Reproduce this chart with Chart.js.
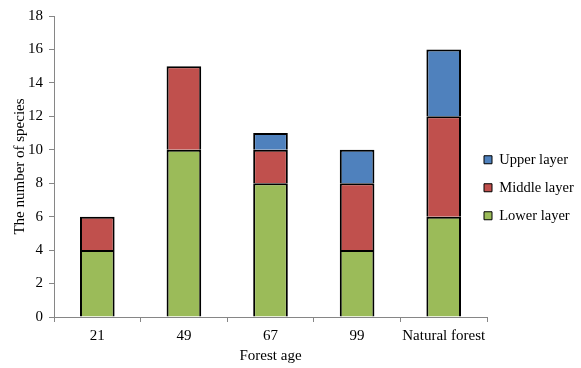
<!DOCTYPE html>
<html>
<head>
<meta charset="utf-8">
<script src="https://cdn.jsdelivr.net/npm/chart.js@4/dist/chart.umd.min.js"></script>
<style>
  html, body { margin: 0; padding: 0; background: #ffffff; }
  #wrap { width: 581px; height: 368px; }
</style>
</head>
<body>
<div id="wrap"><canvas id="chart" width="581" height="368"></canvas></div>
<script>
// Species counts per vegetation layer by forest age
const categories = ['21', '49', '67', '99', 'Natural forest'];
const lowerLayer = [4, 10, 8, 4, 6];
const middleLayer = [2, 5, 2, 4, 6];
const upperLayer = [0, 0, 1, 2, 4];
const yTickValues = [0, 2, 4, 6, 8, 10, 12, 14, 16, 18];

const seriesNames = ['Lower layer', 'Middle layer', 'Upper layer'];
const seriesColors = ['#9BBB59', '#C0504D', '#4F81BD'];

const axisGray = '#868686';
const serif = '"Liberation Serif", "Times New Roman", serif';

// Legend sits to the right of the plot, stacked top-down
const legendPlacer = {
  id: 'legendPlacer',
  afterLayout(chart) {
    const lg = chart.legend;
    if (!lg) return;
    const pad = lg.options.labels.padding;
    const w = lg.width, h = lg.height;
    lg.left = chart.chartArea.right - 3 - pad;
    lg.right = lg.left + w;
    lg.top = chart.chartArea.top + 123;
    lg.bottom = lg.top + h;
  }
};

const ctx = document.getElementById('chart').getContext('2d');
new Chart(ctx, {
  type: 'bar',
  data: {
    labels: categories,
    datasets: [lowerLayer, middleLayer, upperLayer].map((values, i) => ({
      label: seriesNames[i],
      data: values,
      backgroundColor: seriesColors[i],
      borderColor: '#000000',
      borderWidth: 2,
      borderSkipped: 'bottom',
      barPercentage: 0.4,
      categoryPercentage: 1.0
    }))
  },
  options: {
    responsive: false,
    animation: false,
    layout: { padding: { left: 0, right: 94, top: 16, bottom: 0 } },
    plugins: {
      tooltip: { enabled: false },
      legend: {
        position: 'chartArea',
        align: 'start',
        reverse: true,
        labels: {
          boxWidth: 8,
          boxHeight: 8,
          padding: 13.5,
          color: '#000000',
          font: { family: serif, size: 14.5 },
          generateLabels(chart) {
            const items = Chart.defaults.plugins.legend.labels.generateLabels(chart);
            items.forEach(it => { it.lineWidth = 1; });
            return items;
          }
        }
      }
    },
    scales: {
      x: {
        stacked: true,
        offset: true,
        grid: {
          offset: true,
          drawOnChartArea: false,
          drawTicks: true,
          tickLength: 5,
          color: axisGray
        },
        border: { display: true, color: axisGray, width: 1 },
        ticks: {
          color: '#000000',
          font: { family: serif, size: 15 },
          padding: 5,
          maxRotation: 0,
          autoSkip: false
        },
        title: {
          display: true,
          text: 'Forest age',
          color: '#000000',
          font: { family: serif, size: 15 },
          padding: { top: 0, bottom: 3 }
        },
        afterFit(scale) { scale.height = 51; }
      },
      y: {
        stacked: true,
        min: 0,
        max: 18,
        afterBuildTicks(scale) {
          scale.ticks = yTickValues.map(v => ({ value: v }));
        },
        grid: {
          drawOnChartArea: false,
          drawTicks: true,
          tickLength: 5,
          color: axisGray
        },
        border: { display: true, color: axisGray, width: 1 },
        ticks: {
          color: '#000000',
          font: { family: serif, size: 15 },
          padding: 6
        },
        title: {
          display: true,
          text: 'The number of species',
          color: '#000000',
          font: { family: serif, size: 15 },
          padding: { top: 11, bottom: 0 }
        },
        afterFit(scale) { scale.width = 54; }
      }
    }
  },
  plugins: [legendPlacer]
});
</script>
</body>
</html>
